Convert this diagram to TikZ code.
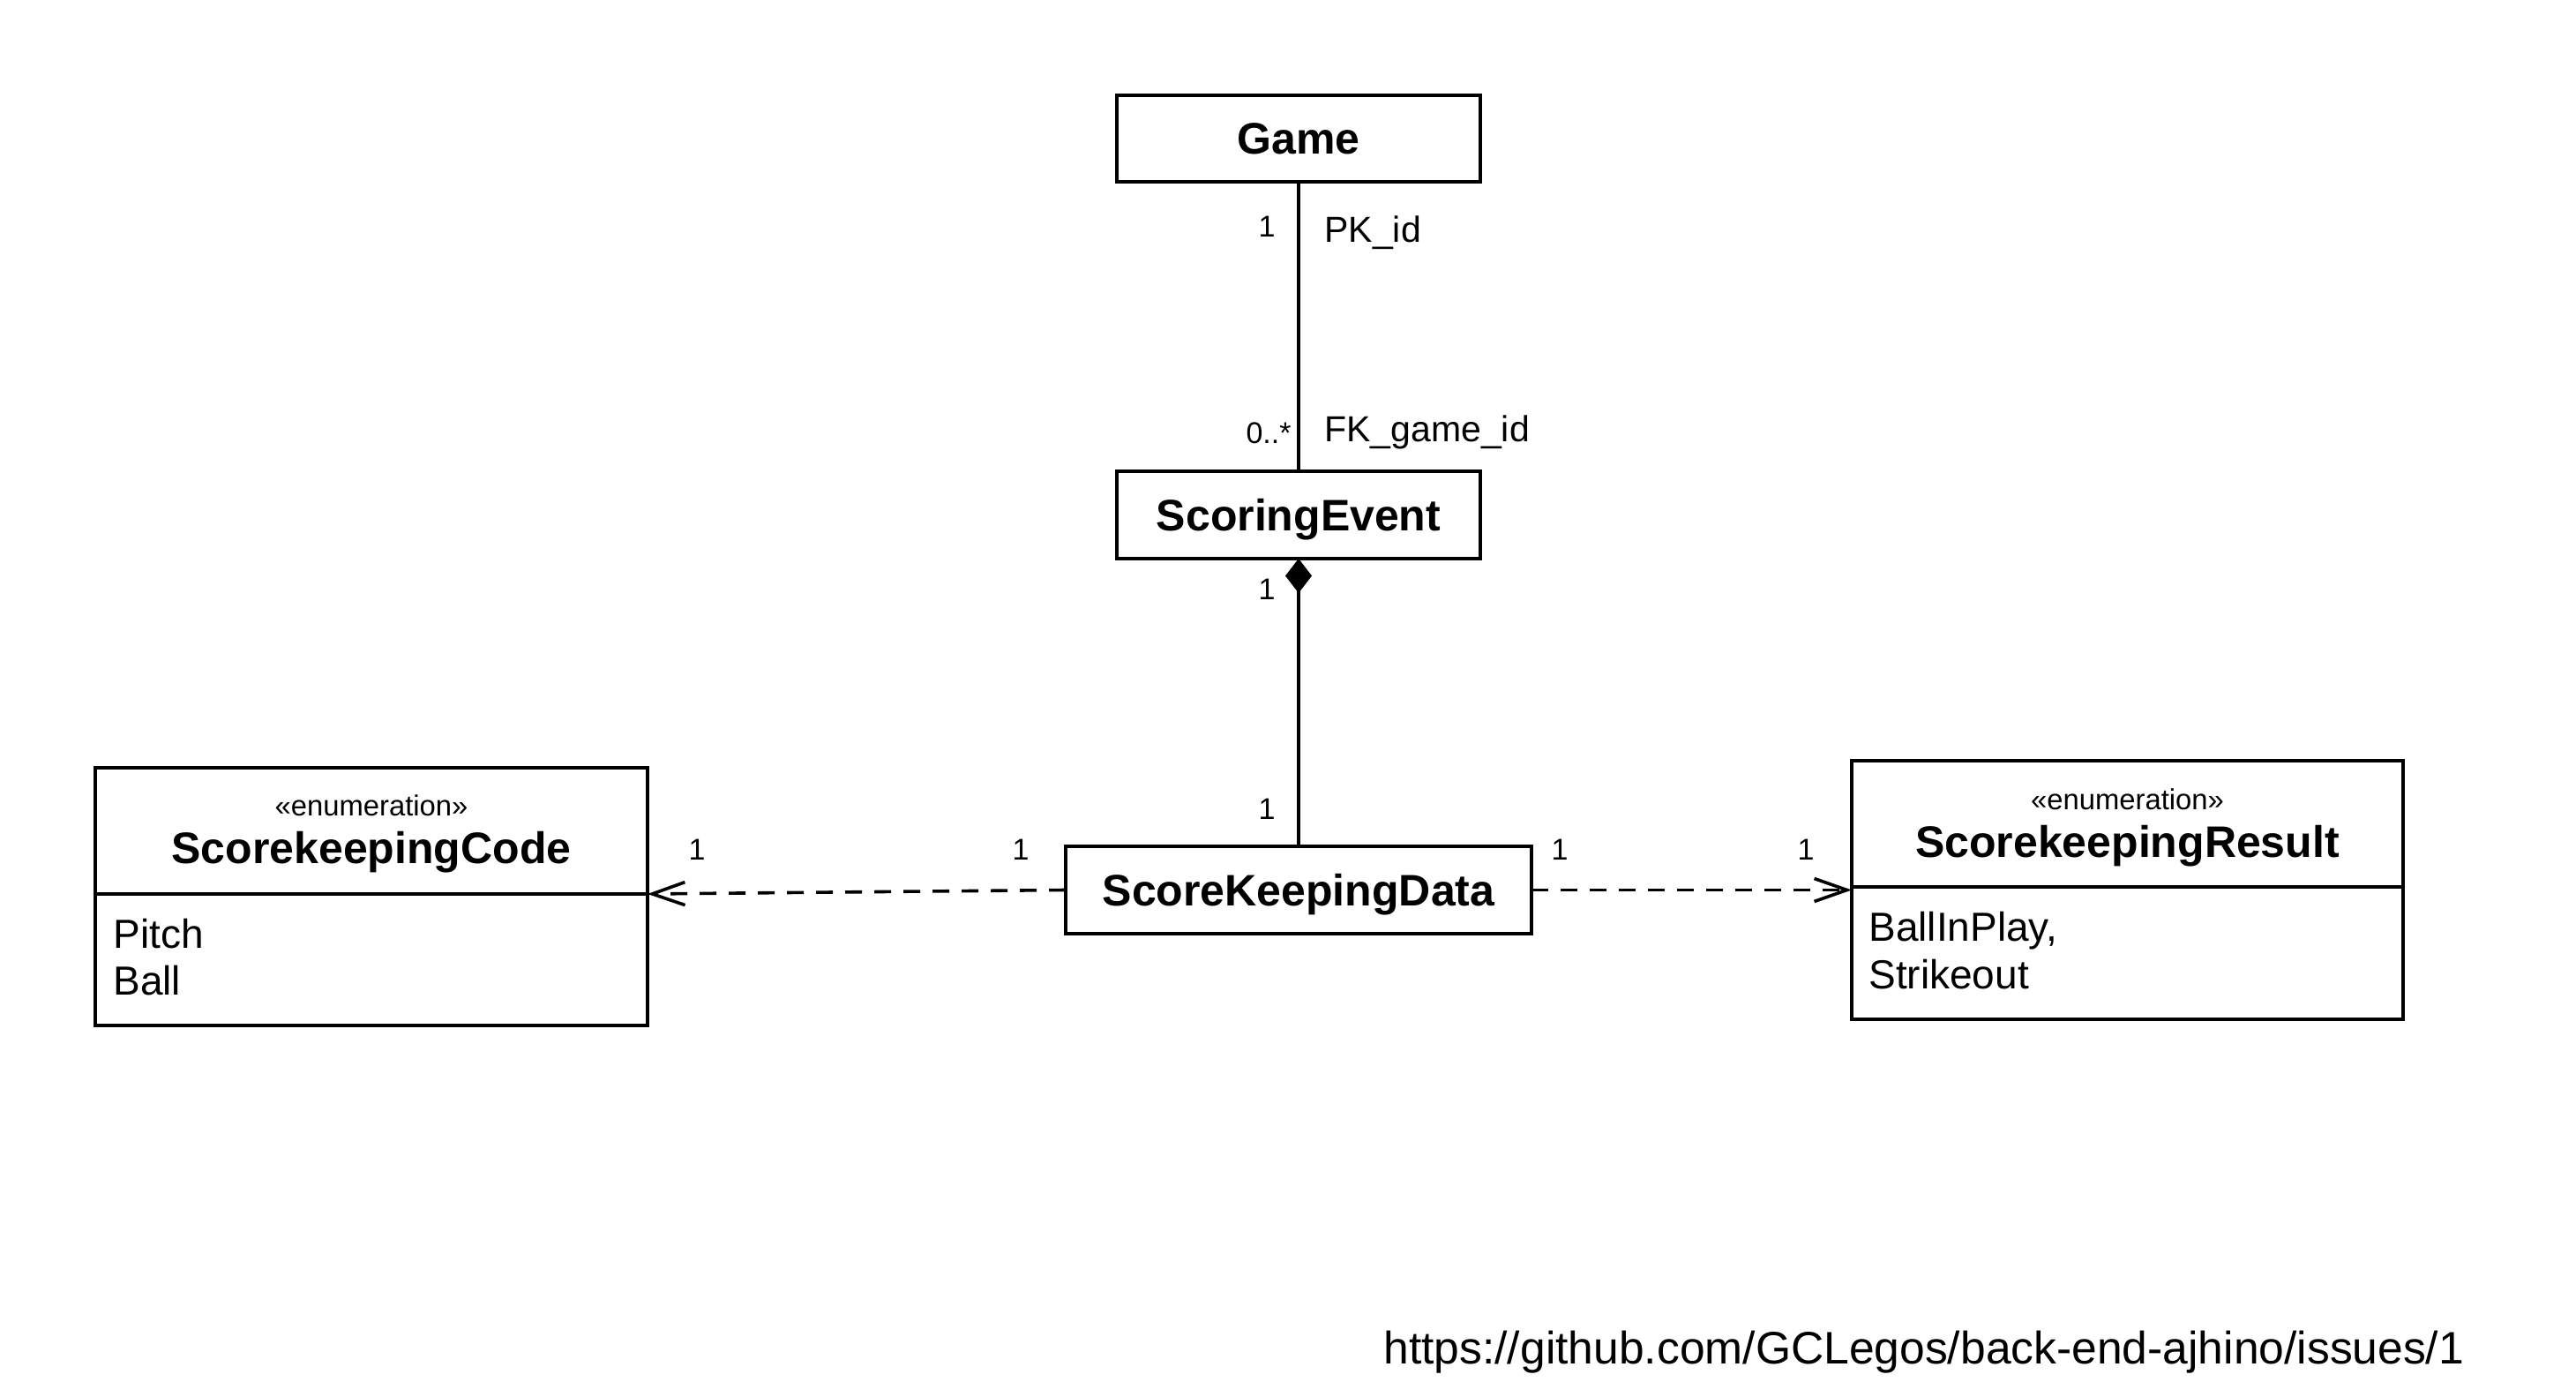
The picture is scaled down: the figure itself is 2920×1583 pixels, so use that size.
\documentclass[tikz,border=0pt]{standalone}
\usepackage{fontspec}
\setmainfont{Liberation Sans}
\usetikzlibrary{arrows.meta}
\begin{document}
\begin{tikzpicture}[x=0.5pt,y=-0.5pt,
  box/.style={draw, line width=1.8pt, inner sep=0pt, outer sep=0pt},
  cname/.style={font=\fontsize{25}{29}\selectfont\bfseries, text height=17.9pt, text depth=0pt},
  ctext/.style={font=\fontsize{25}{29}\selectfont\bfseries, inner sep=0pt, anchor=base},
  stereo/.style={font=\fontsize{16.4}{19}\selectfont, inner sep=0pt, anchor=base},
  attr/.style={font=\fontsize{23}{27}\selectfont, inner sep=0pt, anchor=base west},
  mult/.style={font=\fontsize{17}{20}\selectfont, inner sep=0pt, text height=12.2pt, text depth=0pt},
  role/.style={font=\fontsize{20.5}{24}\selectfont, inner sep=0pt, anchor=base west},
  conn/.style={line width=1.6pt},
  dep/.style={line width=1.8pt, dash pattern=on 9.5pt off 7pt, -{Straight Barb[length=18.5pt, width=13pt, line width=1.8pt]}},
]
\useasboundingbox[fill=white] (0,0) rectangle (2920,1583);

% class boxes
\node[box, cname, minimum width=206pt, minimum height=49pt] (game) at (1472,157) {Game};
\node[box, cname, minimum width=206pt, minimum height=49.5pt] (scoring) at (1472,583.5) {ScoringEvent};
\node[box, cname, minimum width=264pt, minimum height=49.5pt] (skd) at (1472,1008.5) {ScoreKeepingData};

% ScorekeepingCode
\node[box, minimum width=313pt, minimum height=71.5pt] (codehead) at (421,941.5) {};
\node[box, minimum width=313pt, minimum height=74.5pt, anchor=north] (codebody) at (codehead.south) {};
\node[stereo] (codest) at (421,924) {«enumeration»};
\node[ctext] (codename) at (421,978) {ScorekeepingCode};
\node[attr] (codea1) at (128,1074) {Pitch};
\node[attr] (codea2) at (128,1127) {Ball};

% ScorekeepingResult
\node[box, minimum width=312.5pt, minimum height=71.5pt] (reshead) at (2411.5,933.5) {};
\node[box, minimum width=312.5pt, minimum height=75pt, anchor=north] (resbody) at (reshead.south) {};
\node[stereo] (resst) at (2411.5,917) {«enumeration»};
\node[ctext] (resname) at (2411.5,971) {ScorekeepingResult};
\node[attr] (resa1) at (2118,1066) {BallInPlay,};
\node[attr] (resa2) at (2118,1120) {Strikeout};

% connectors
\draw[conn] (game.south) -- (scoring.north);
\draw[conn, {Diamond[length=19.5pt, width=15pt, line width=0.6pt]}-] (scoring.south) -- (skd.north);
\draw[dep] (skd.west) -- (codehead.south east);
\draw[dep] (skd.east) -- (skd.east -| reshead.west);

% multiplicities and roles
\node[mult] (m1) at (1436,256) {1};
\node[role] (pk) at (1501,275) {PK\_id};
\node[mult, anchor=base east] (m2) at (1464,503) {0..*};
\node[role] (fk) at (1501,501) {FK\_game\_id};
\node[mult] (m3) at (1436,667) {1};
\node[mult] (m4) at (1436,916) {1};
\node[mult] (m5) at (790,962) {1};
\node[mult] (m6) at (1157,962) {1};
\node[mult] (m7) at (1768,962) {1};
\node[mult] (m8) at (2047,962) {1};

% url
\node[font=\fontsize{25.8}{30}\selectfont, inner sep=0pt, anchor=base west] (url) at (1568,1545) {https://github.com/GCLegos/back-end-ajhino/issues/1};
\end{tikzpicture}
\end{document}
